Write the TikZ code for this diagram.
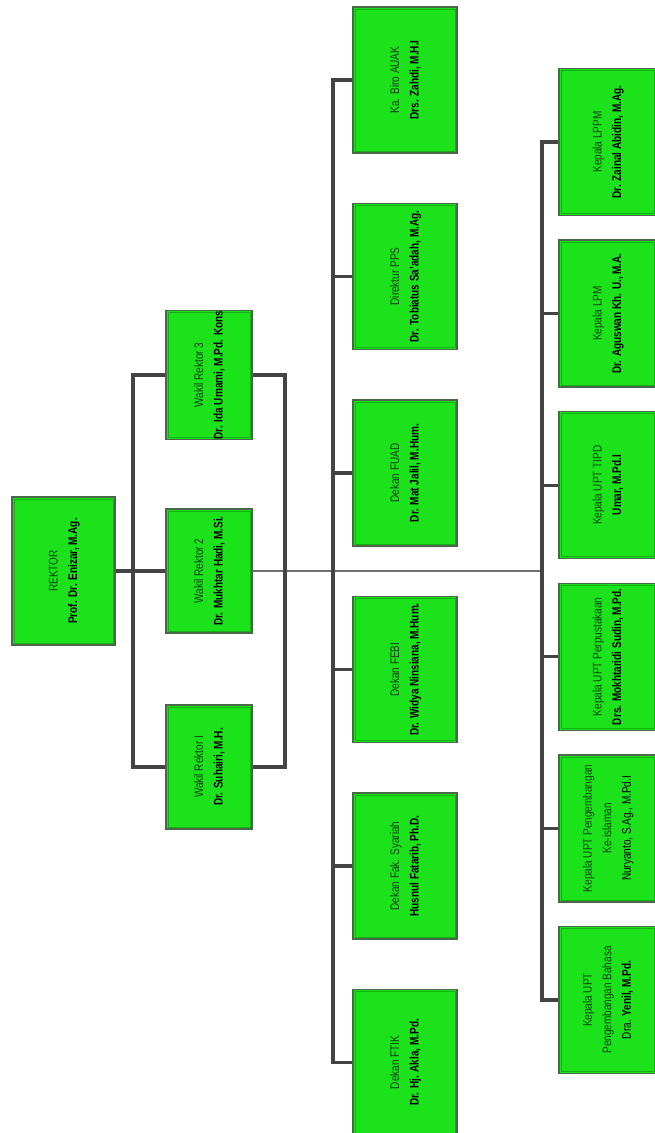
\documentclass[tikz,border=0pt]{standalone}
\usepackage{fontspec}
\setmainfont{Liberation Sans}[FakeStretch=0.8]
\usetikzlibrary{backgrounds}

\definecolor{boxfill}{RGB}{28,226,28}
\definecolor{boxedge}{RGB}{72,104,72}
\definecolor{boxinner}{RGB}{20,175,20}
\definecolor{titlegreen}{RGB}{18,62,18}
\definecolor{linegray}{RGB}{68,68,68}
\definecolor{thingray}{RGB}{110,110,110}

% two-line caption turned to read upwards
\newcommand{\unitbox}[2]{\rotatebox{90}{\begin{tabular}{@{}c@{}}\textcolor{titlegreen}{#1}\\#2\end{tabular}}}

\tikzset{
  unit/.style={draw=boxedge, line width=1.3pt, fill=boxfill, inner sep=0pt,
    font=\fontsize{12.5}{19.5}\selectfont, text=black,
    path picture={\draw[boxinner, line width=0.8pt]
      ([shift={(2pt,-2pt)}]path picture bounding box.north west) rectangle
      ([shift={(-2pt,2pt)}]path picture bounding box.south east);}},
  rekbox/.style={unit, minimum width=103pt, minimum height=148pt},
  wrbox/.style={unit, minimum width=86pt, minimum height=124pt},
  midbox/.style={unit, minimum width=104pt, minimum height=146pt},
  rightbox/.style={unit, minimum width=97pt, minimum height=147pt},
  conn/.style={draw=linegray, line width=3.3pt, line join=miter},
  thinconn/.style={draw=thingray, line width=1.6pt}
}

\begin{document}
\begin{tikzpicture}[x=1pt, y=-1pt]
\useasboundingbox (0,0) rectangle (654,1133);

% top leadership
\node[rekbox] (rektor) at (63.5,571) {\unitbox{REKTOR}{\textbf{Prof. Dr. Enizar, M.Ag.}}};
\node[wrbox] (wr3) at (209,375) {\unitbox{Wakil Rektor 3}{\textbf{Dr. Ida Umami, M.Pd. Kons}}};
\node[wrbox] (wr2) at (209,571) {\unitbox{Wakil Rektor 2}{\textbf{Dr. Mukhtar Hadi, M.Si.}}};
\node[wrbox] (wr1) at (209,767) {\unitbox{Wakil Rektor I}{\textbf{Dr. Suhairi, M.H.}}};

% bureau, postgraduate and faculties
\node[midbox] (m1) at (405,80) {\unitbox{Ka. Biro AUAK}{\textbf{Drs. Zahdi, M.H.I}}};
\node[midbox] (m2) at (405,276.5) {\unitbox{Direktur PPS}{\textbf{Dr. Tobiatus Sa'adah, M.Ag.}}};
\node[midbox] (m3) at (405,473) {\unitbox{Dekan FUAD}{\textbf{Dr. Mat Jalil, M.Hum.}}};
\node[midbox] (m4) at (405,669.5) {\unitbox{Dekan FEBI}{\textbf{Dr. Widya Ninsiana, M.Hum.}}};
\node[midbox] (m5) at (405,866) {\unitbox{Dekan Fak. Syariah}{\textbf{Husnul Fatarib, Ph.D.}}};
\node[midbox] (m6) at (405,1062.5) {\unitbox{Dekan FTIK}{\textbf{Dr. Hj. Akla, M.Pd.}}};

% institutes and technical units
\node[rightbox] (r1) at (607.5,142) {\unitbox{Kepala LPPM}{\textbf{Dr. Zainal Abidin, M.Ag.}}};
\node[rightbox] (r2) at (607.5,313.6) {\unitbox{Kepala LPM}{\textbf{Dr. Aguswan Kh. U., M.A.}}};
\node[rightbox] (r3) at (607.5,485.2) {\unitbox{Kepala UPT TIPD}{\textbf{Umar, M.Pd.I}}};
\node[rightbox] (r4) at (607.5,656.8) {\unitbox{Kepala UPT Perpustakaan}{\textbf{Drs. Mokhtaridi Sudin, M.Pd.}}};
\node[rightbox] (r5) at (607.5,828.4) {\rotatebox{90}{\begin{tabular}{@{}c@{}}\textcolor{titlegreen}{Kepala UPT Pengembangan}\\\textcolor{titlegreen}{Ke-islaman}\\Nuryanto, S.Ag., M.Pd.I\end{tabular}}};
\node[rightbox] (r6) at (607.5,1000) {\rotatebox{90}{\begin{tabular}{@{}c@{}}\textcolor{titlegreen}{Kepala UPT}\\\textcolor{titlegreen}{Pengembangan Bahasa}\\Dra. \textbf{Yenil, M.Pd.}\end{tabular}}};

% bus positions
\coordinate (lbus) at (133,571);
\coordinate (rbrk) at (285,571);
\coordinate (mbus) at (333,571);
\coordinate (rbus) at (542,571);

\begin{scope}[on background layer]
  \fill[white] (0,0) rectangle (654,1133);
  \draw[thinconn] (wr2.east) -- (rbus);
  \draw[conn] (rektor.east) -- (wr2.west);
  \draw[conn] (wr3.west) -| (lbus) |- (wr1.west);
  \draw[conn] (wr3.east) -| (rbrk) |- (wr1.east);
  \draw[conn] (m1.west) -| (mbus) |- (m6.west);
  \foreach \n in {m2,m3,m4,m5} \draw[conn] (\n.west) -- (\n.west -| mbus);
  \draw[conn] (r1.west) -| (rbus) |- (r6.west);
  \foreach \n in {r2,r3,r4,r5} \draw[conn] (\n.west) -- (\n.west -| rbus);
\end{scope}
\end{tikzpicture}
\end{document}
